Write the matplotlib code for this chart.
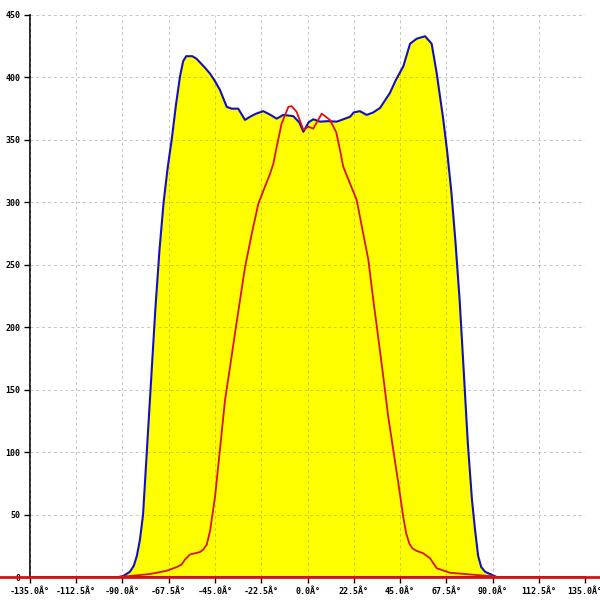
import matplotlib
matplotlib.use("Agg")
import matplotlib.pyplot as plt

# Blue envelope (filled yellow)
blue_deg = [-92, -89.6, -86.4, -84.5, -83, -81.5, -80, -78, -76, -74, -72, -70, -68, -66,
            -64, -62, -60.5, -59, -56, -54, -50, -47.4, -45, -42.6, -39.3,
            -36.9, -33.7, -30.4, -28, -25, -21.5, -18, -15, -11.8, -6.9, -4, -2, 0.5,
            2.8, 6.1, 10, 14.2, 16.6, 20.7, 22.5, 25.5, 28.8, 32, 35.3, 40.1, 43, 46.6,
            49.9, 53.1, 57.2, 60.4, 62.9, 64, 66, 68, 70, 72, 74, 76, 78, 80, 81.5,
            83, 84.5, 86.4, 90.4, 92]
blue_val = [0, 0.8, 4.2, 9, 17, 30, 50, 105, 160, 215, 262, 300, 328, 351,
            378, 401, 413, 417, 417, 415, 408, 403, 397, 390, 376.5,
            375, 375, 366, 368.5, 371, 373, 370, 367, 370, 369, 364, 356.5, 364,
            366.5, 364.6, 365, 364.6, 366, 368.5, 372, 373, 370, 372, 375.6, 387.6, 398, 408.8,
            427, 431, 433, 427, 403, 390, 367, 340, 308, 268, 222, 165, 107, 62, 38,
            17, 8, 4.2, 1.2, 0]

# Red curve
red_deg = [-92, -86.4, -76.6, -68.5, -63.6, -61.2, -59.6, -57.2, -52.3, -50.7, -49, -47.4,
           -45, -42.6, -40.1, -37.7, -35.3, -32.8, -30.4, -27.1, -23.9, -20.7, -18.2, -16.6,
           -15.3, -12.6, -9.3, -7.7, -5.3, -2, 0.4, 2.8, 6.9, 10.9, 14, 15.8, 17.4, 20.7,
           23.9, 27.1, 29.6, 32, 34.4, 36.9, 39.3, 41.7, 44.2, 46.6, 48, 49.5, 51, 53, 56.3,
           59.6, 62.9, 69.3, 75.8, 82.3, 90.4, 92]
red_val = [0, 0.8, 2.4, 5, 8, 10, 14, 18, 20, 22, 26, 37,
           64, 102, 142, 168, 195, 222, 248, 275, 299, 312.5, 323, 331,
           342, 363, 376.5, 377, 372.5, 358, 360.6, 359, 371, 366, 356, 342, 328.5, 315,
           302, 275, 254, 222, 192, 160, 128, 102, 75, 48, 35, 27, 23, 21, 19,
           15, 7, 3.4, 2.5, 1.6, 0.5, 0]

xticks = [-135, -112.5, -90, -67.5, -45, -22.5, 0, 22.5, 45, 67.5, 90, 112.5, 135]
xlabels = [f"{v:.1f}\u00c2\u00b0" for v in xticks]
yticks = [0, 50, 100, 150, 200, 250, 300, 350, 400, 450]
ylabels = [str(v) for v in yticks]

fig = plt.figure(figsize=(6, 6), dpi=100)
ax = fig.add_axes([0.05, 0.0383, 0.925, 0.9367])

ax.fill_between(blue_deg, blue_val, 0, color="#ffff00", linewidth=0, zorder=1)
ax.plot(blue_deg, blue_val, color="#1010c0", linewidth=1.5, zorder=3)
ax.plot(red_deg, red_val, color="#dd1010", linewidth=1.3, zorder=4)
ax.plot([-150, 145], [0, 0], color="#dd1010", linewidth=2.0, clip_on=False, zorder=6)

ax.set_xlim(-135, 135)
ax.set_ylim(0, 450)
ax.set_xticks(xticks)
ax.set_xticklabels(xlabels)
ax.set_yticks(yticks)
ax.set_yticklabels(ylabels)

ax.set_axisbelow(False)
ax.grid(True, color="#808080", alpha=0.45, linestyle=(0, (3, 3)), linewidth=0.7, zorder=2)

for s in ["top", "right"]:
    ax.spines[s].set_visible(False)
ax.spines["left"].set_linewidth(1.2)
ax.spines["bottom"].set_linewidth(1.2)

ax.tick_params(axis="both", direction="out", length=4, width=1, color="black",
               labelsize=6, pad=3)
for lab in ax.get_xticklabels() + ax.get_yticklabels():
    lab.set_family("DejaVu Sans Mono")
    lab.set_fontweight("bold")

fig.savefig("out.png", dpi=100)
